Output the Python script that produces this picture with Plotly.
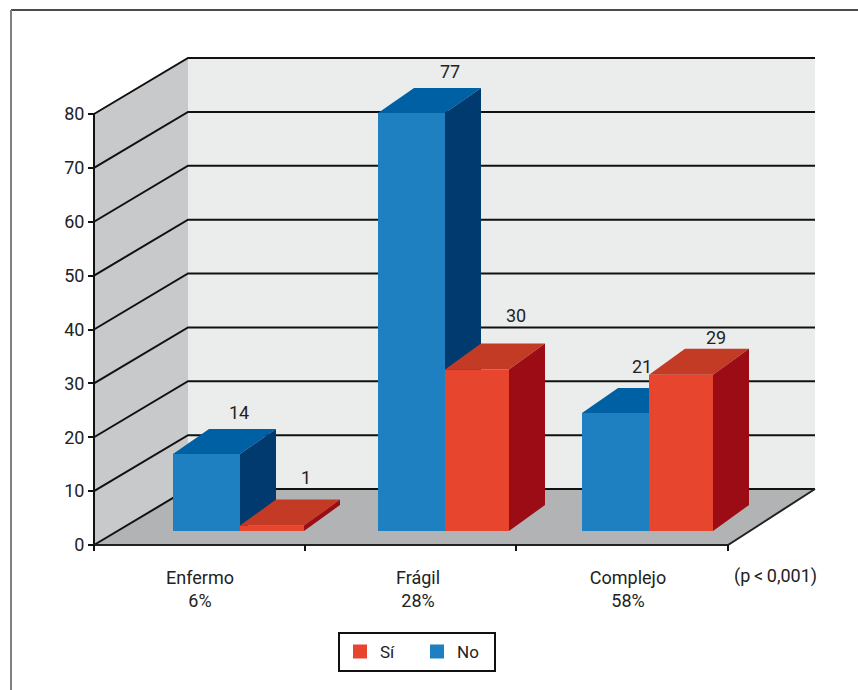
import plotly.graph_objects as go

# ---- data ----
categories = ["Enfermo", "Frágil", "Complejo"]
percents = ["6%", "28%", "58%"]
si_labels = [1, 30, 29]
no_labels = [14, 77, 21]
si_heights = [1.0, 30.0, 29.0]
no_heights = [14.3, 77.6, 21.9]
y_ticks = [0, 10, 20, 30, 40, 50, 60, 70, 80]

# ---- geometry / style ----
W, H = 858, 690
FONT = "Roboto, Liberation Sans, sans-serif"
FS = 18
Y0_PX, Y80_PX = 545, 114
PX_PER_UNIT = (Y0_PX - Y80_PX) / 80
X_FRONT, X_BACK = 94, 188
X_FRONT_R, X_BACK_R = 728, 815
WALL_DY = 56 / PX_PER_UNIT
FLOOR_LIFT = 14 / PX_PER_UNIT
BAR_DX = 36
NO_DY, SI_DY = 25 / PX_PER_UNIT, 26 / PX_PER_UNIT
NO_LEFT = [173, 378, 582]
NO_W = 67
SI_LEFT = [240, 445, 649]
SI_W = 64
LABEL_CENTERS = [200, 418, 628]
X_TICKS = [94, 305, 516, 728]
NO_OFFS = [(-4, 16), (2, 16), (-10, 22)]
SI_OFFS = [(-2, 22), (3, 28), (-1, 11)]
C = dict(wall="#ebedec", side="#c8c9cb", floor="#b2b3b5",
         no="#1f80c1", no_top="#0060a4", no_side="#013a6e",
         si="#e8452e", si_top="#c33b25", si_side="#9c0c14")
TEXT = "#222222"
EDGE = 2  # bar outline, same colour as the bar; also sizes the legend swatch

yr = [(Y0_PX - H) / PX_PER_UNIT, Y0_PX / PX_PER_UNIT]


def poly(xs, ys, color, xa="x", ya="y"):
    return go.Scatter(x=xs + xs[:1], y=ys + ys[:1], mode="lines", fill="toself", fillcolor=color,
                      line=dict(width=0, color=color), hoverinfo="skip", showlegend=False, xaxis=xa, yaxis=ya)


def seg(xs, ys, color="#111111", width=2):
    return go.Scatter(x=xs, y=ys, mode="lines", line=dict(color=color, width=width),
                      hoverinfo="skip", showlegend=False)


fig = go.Figure()
# walls and floor
fig.add_trace(poly([X_BACK, X_BACK_R, X_BACK_R, X_BACK], [WALL_DY, WALL_DY, 80 + WALL_DY, 80 + WALL_DY], C["wall"]))
fig.add_trace(poly([X_FRONT, X_BACK, X_BACK, X_FRONT], [0, WALL_DY, 80 + WALL_DY, 80], C["side"]))
fig.add_trace(poly([X_FRONT, X_BACK, X_BACK_R, X_FRONT_R], [0, WALL_DY, WALL_DY, 0], C["floor"]))
# grid lines
for v in y_ticks:
    fig.add_trace(seg([X_FRONT, X_BACK, X_BACK_R], [v, v + WALL_DY, v + WALL_DY]))
fig.add_trace(seg([X_FRONT, X_FRONT], [0, 80]))
fig.add_trace(seg([X_FRONT, X_FRONT_R, X_BACK_R], [0, 0, WALL_DY], color="#222222"))
for xt in X_TICKS:
    fig.add_trace(seg([xt, xt], [0, -6 / PX_PER_UNIT]))

base = FLOOR_LIFT
edge_v = EDGE / PX_PER_UNIT


def add_series(name, lefts, width, heights, dy, col, top, side, xa, ya):
    fig.add_trace(go.Bar(name=name, x=[l + width / 2 for l in lefts], y=[h - edge_v for h in heights],
                         base=base + edge_v / 2, width=width - EDGE,
                         marker=dict(color=col, line=dict(width=EDGE, color=col)),
                         xaxis=xa, yaxis=ya, hoverinfo="skip"))
    for l, h in zip(lefts, heights):
        t = base + h
        fig.add_trace(poly([l, l + BAR_DX, l + width + BAR_DX, l + width], [t, t + dy, t + dy, t], top, xa, ya))
        r = l + width
        fig.add_trace(poly([r, r + BAR_DX, r + BAR_DX, r], [base, base + dy, t + dy, t], side, xa, ya))


# "Sí" comes first in the legend, but it is painted on the top layer
add_series("Sí", SI_LEFT, SI_W, si_heights, SI_DY, C["si"], C["si_top"], C["si_side"], "x3", "y3")
add_series("No", NO_LEFT, NO_W, no_heights, NO_DY, C["no"], C["no_top"], C["no_side"], "x2", "y2")

annotations = []
for lefts, width, heights, labels, offs, dy in [(NO_LEFT, NO_W, no_heights, no_labels, NO_OFFS, NO_DY),
                                                (SI_LEFT, SI_W, si_heights, si_labels, SI_OFFS, SI_DY)]:
    for l, h, lab, (ox, oy) in zip(lefts, heights, labels, offs):
        annotations.append(dict(x=l + width / 2 + BAR_DX, y=base + h + dy, text=str(lab), showarrow=False,
                                xref="x", yref="y", xshift=ox, yshift=oy, font=dict(size=FS, color=TEXT)))
annotations.append(dict(x=775.5, y=-31 / PX_PER_UNIT, text="(p\u2009<\u20090,001)", showarrow=False, xref="x", yref="y",
                        font=dict(size=FS, color=TEXT)))

common_x = dict(range=[0, W], domain=[0, 1], showgrid=False, zeroline=False)
common_y = dict(range=yr, domain=[0, 1], showgrid=False, zeroline=False)
fig.update_layout(
    width=W, height=H, margin=dict(l=0, r=0, t=0, b=0), paper_bgcolor="white", plot_bgcolor="white",
    font=dict(family=FONT, size=FS, color=TEXT), barmode="overlay", hovermode=False,
    xaxis=dict(**common_x, anchor="free", position=1 - Y0_PX / H, side="bottom",
               tickmode="array", tickvals=LABEL_CENTERS,
               ticktext=[f"{c}<br>{p}" for c, p in zip(categories, percents)],
               ticks="", ticklabelstandoff=20, showline=False),
    yaxis=dict(**common_y, anchor="free", position=X_FRONT / W, side="left",
               tickmode="array", tickvals=y_ticks, ticks="outside", ticklen=6, tickwidth=2, tickcolor="#111111",
               showline=False),
    xaxis2=dict(**common_x, overlaying="x", visible=False, matches="x"),
    yaxis2=dict(**common_y, overlaying="y", visible=False, matches="y"),
    xaxis3=dict(**common_x, overlaying="x", visible=False, matches="x"),
    yaxis3=dict(**common_y, overlaying="y", visible=False, matches="y"),
    legend=dict(orientation="h", x=338 / W, xanchor="left", y=1 - 632 / H, yanchor="top",
                bordercolor="#111111", borderwidth=2, bgcolor="white", traceorder="normal",
                entrywidth=32, entrywidthmode="pixels", font=dict(size=FS - 1)),
    annotations=annotations,
    shapes=[
        dict(type="line", xref="paper", yref="paper", x0=11 / W, x1=1, y0=1 - 10 / H, y1=1 - 10 / H,
             line=dict(color="#111111", width=1.5)),
        dict(type="line", xref="paper", yref="paper", x0=11 / W, x1=11 / W, y0=0, y1=1 - 10 / H,
             line=dict(color="#808080", width=2)),
    ],
)
fig.write_html("out.html", config={"displayModeBar": False},
               post_script="document.body.style.margin='0';window.dispatchEvent(new Event('resize'));")
